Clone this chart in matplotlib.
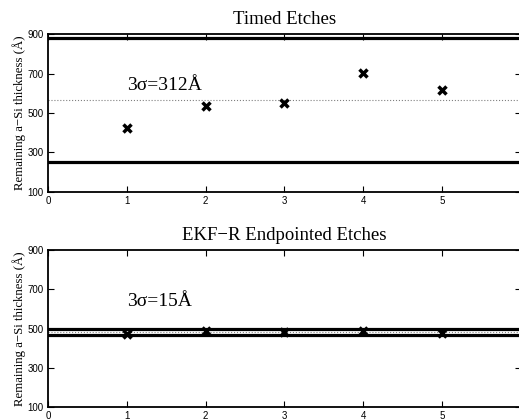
import matplotlib.pyplot as plt
import numpy as np

runs = [1, 2, 3, 4, 5]
timed = [424, 535, 550, 702, 618]
ekf = [474, 489, 484, 485, 476]
titles = ["Timed Etches", "EKF\u2212R Endpointed Etches"]
sigma_labels = ["3\u03c3=312\u00c5", "3\u03c3=15\u00c5"]
three_sigma = [312, 15]
yticks = [100, 300, 500, 700, 900]
xticks = [0, 1, 2, 3, 4, 5, 6]

fig = plt.figure(figsize=(5.19, 4.19), dpi=100)
boxes = [[0.0925, 0.5418, 0.911, 0.377], [0.0925, 0.0286, 0.911, 0.3747]]

for box, data, title, lab, s3 in zip(boxes, [timed, ekf], titles, sigma_labels, three_sigma):
    ax = fig.add_axes(box)
    mean = np.mean(data)
    ax.axhline(mean, color="gray", linestyle=":", linewidth=0.8)
    ax.axhline(mean + s3, color="black", linewidth=2.3)
    ax.axhline(mean - s3, color="black", linewidth=2.3)
    ax.plot(runs, data, linestyle="none", marker="x", color="black",
            markersize=6, markeredgewidth=2.5)
    ax.text(1.0, 640, lab, fontsize=14, family="Liberation Serif", va="center", ha="left")
    ax.set_title(title, fontsize=13.5, family="Liberation Serif", pad=7.5)
    ax.set_xlim(0, 6)
    ax.set_ylim(100, 900)
    ax.set_xticks(xticks)
    ax.set_yticks(yticks)
    ax.set_ylabel("Remaining a\u2212Si thickness (\u00c5)", fontsize=9.2,
                  family="Liberation Serif", labelpad=1)
    ax.tick_params(direction="in", length=4, width=0.8, top=True, right=True,
                   labelsize=7, pad=3)
    for lbl in ax.get_xticklabels() + ax.get_yticklabels():
        lbl.set_family("Liberation Sans")
    for sp in ax.spines.values():
        sp.set_linewidth(1.3)

fig.savefig("out.png", dpi=100)
